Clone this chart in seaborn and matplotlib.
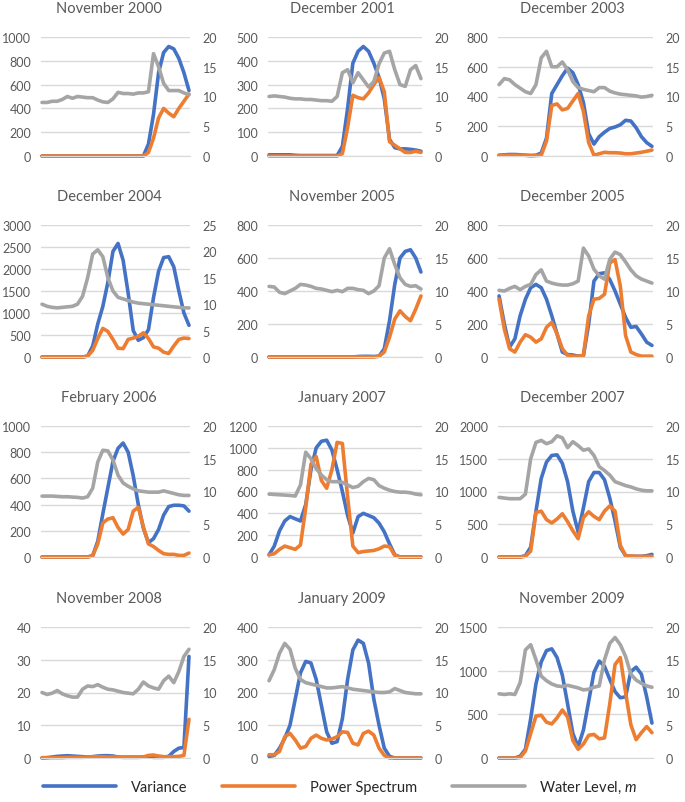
import numpy as np
import pandas as pd
import matplotlib
matplotlib.use("Agg")
import matplotlib.pyplot as plt
import seaborn as sns
from matplotlib.lines import Line2D

# ---------------- data ----------------
titles = ["November 2000", "December 2001", "December 2003",
          "December 2004", "November 2005", "December 2005",
          "February 2006", "January 2007", "December 2007",
          "November 2008", "January 2009", "November 2009"]

left_max = [1000, 500, 800, 3000, 800, 800, 1000, 1200, 2000, 40, 400, 1500]
left_step = [200, 100, 200, 500, 200, 200, 200, 200, 500, 10, 100, 500]
right_max = [20, 20, 20, 25, 20, 20, 20, 20, 20, 20, 20, 20]

variance_nov2000 = [0]*21 + [100, 350, 700, 870, 920, 900, 820, 700, 550]
power_nov2000 = [0]*21 + [30, 150, 320, 400, 360, 330, 400, 460, 520]
water_nov2000 = [9.0, 9.0, 9.2, 9.2, 9.5, 10.0, 9.7, 10.0, 9.9, 9.8, 9.8, 9.4, 9.1, 9.0,
                 9.6, 10.7, 10.5, 10.5, 10.4, 10.6, 10.6, 10.8, 17.2, 15.0, 12.2, 11.0,
                 11.0, 11.0, 10.6, 10.3]

variance_dec2001 = [5, 5, 5, 5, 5, 3, 2, 2, 2, 2, 2, 2, 2, 2, 40, 200, 390, 440, 460, 440,
                    390, 330, 240, 70, 35, 30, 30, 28, 25, 20]
power_dec2001 = [0]*14 + [10, 120, 255, 245, 240, 265, 300, 330, 270, 60, 45, 30, 15, 15, 20, 15]
water_dec2001 = [10.0, 10.1, 10.0, 9.9, 9.7, 9.6, 9.6, 9.5, 9.5, 9.4, 9.3, 9.3, 9.2, 10.0,
                 14.0, 14.5, 12.3, 14.0, 12.8, 11.6, 12.5, 15.5, 17.3, 17.6, 14.5, 12.0,
                 11.7, 14.5, 15.2, 13.0]

variance_dec2003 = [5, 8, 10, 10, 8, 5, 3, 5, 20, 120, 420, 480, 540, 590, 560, 480, 360,
                    150, 80, 130, 160, 185, 195, 210, 240, 235, 190, 130, 90, 65]
power_dec2003 = [5, 5, 5, 5, 5, 5, 3, 3, 5, 100, 340, 350, 310, 320, 370, 420, 300, 90, 5,
                 15, 25, 22, 22, 20, 15, 15, 20, 25, 32, 40]
water_dec2003 = [12.0, 13.0, 12.8, 12.0, 11.4, 10.8, 10.5, 12.0, 16.5, 17.6, 15.0, 15.0,
                 15.8, 14.5, 12.5, 11.5, 11.2, 11.0, 10.8, 11.5, 11.5, 10.9, 10.6, 10.4,
                 10.3, 10.2, 10.1, 9.9, 10.0, 10.2]

variance_dec2004 = [0]*9 + [20, 250, 750, 1150, 1700, 2400, 2580, 2200, 1450, 600, 380, 440,
                            620, 1350, 1950, 2260, 2280, 2050, 1500, 1000, 720]
power_dec2004 = [0]*9 + [20, 150, 420, 650, 580, 400, 200, 190, 400, 430, 470, 550, 420, 230,
                         200, 110, 80, 250, 400, 430, 420]
water_dec2004 = [10.0, 9.6, 9.4, 9.3, 9.4, 9.5, 9.6, 10.0, 11.5, 15.0, 19.5, 20.3, 19.0,
                 15.0, 12.5, 11.3, 11.0, 10.7, 10.4, 10.2, 10.1, 10.0, 9.9, 9.8, 9.7, 9.6,
                 9.5, 9.4, 9.3, 9.3]

variance_nov2005 = [0]*17 + [3, 4, 4, 3, 5, 50, 220, 440, 600, 640, 650, 600, 515]
power_nov2005 = [0]*21 + [5, 30, 120, 230, 280, 245, 220, 290, 370]
water_nov2005 = [10.7, 10.6, 9.8, 9.6, 10.0, 10.4, 11.0, 10.9, 10.7, 10.4, 10.3, 10.1, 9.9,
                 10.1, 9.9, 10.4, 10.4, 10.2, 10.1, 9.6, 10.0, 10.8, 15.0, 16.4, 14.0, 12.0,
                 11.0, 10.7, 10.8, 10.3]

variance_dec2005 = [370, 200, 60, 110, 250, 350, 420, 440, 420, 350, 250, 140, 30, 15, 12, 5,
                    8, 200, 460, 505, 510, 470, 400, 320, 240, 180, 185, 140, 90, 70]
power_dec2005 = [350, 170, 50, 30, 90, 135, 120, 90, 110, 180, 210, 140, 50, 10, 5, 5, 10,
                 250, 350, 355, 380, 570, 590, 430, 130, 30, 15, 5, 5, 5]
water_dec2005 = [10.1, 10.0, 10.4, 10.7, 10.2, 10.7, 11.0, 12.5, 13.2, 11.5, 11.2, 11.0,
                 10.9, 10.9, 11.1, 11.5, 16.5, 15.3, 13.3, 12.3, 11.8, 14.8, 15.9, 15.5,
                 14.4, 13.2, 12.3, 11.8, 11.5, 11.2]

variance_feb2006 = [0]*10 + [10, 120, 330, 530, 730, 830, 870, 800, 620, 400, 220, 110, 140,
                             210, 320, 385, 395, 395, 390, 350]
power_feb2006 = [0]*10 + [10, 100, 260, 290, 300, 225, 175, 210, 350, 380, 230, 100, 80, 50,
                          25, 20, 20, 12, 12, 30]
water_feb2006 = [9.3, 9.3, 9.3, 9.25, 9.2, 9.2, 9.15, 9.1, 9.0, 9.2, 10.5, 14.5, 16.3, 16.2,
                 14.8, 12.5, 11.3, 10.8, 10.4, 10.1, 10.0, 9.9, 9.9, 9.9, 10.1, 9.9, 9.7,
                 9.5, 9.4, 9.4]

variance_jan2007 = [20, 100, 240, 330, 370, 350, 330, 480, 800, 1000, 1060, 1070, 980, 800,
                    600, 380, 220, 370, 400, 380, 360, 310, 230, 120, 20, 0, 0, 0, 0, 0]
power_jan2007 = [20, 30, 70, 100, 85, 70, 110, 450, 850, 920, 700, 630, 800, 1050, 1040, 550,
                 100, 40, 50, 55, 60, 75, 100, 95, 15, 0, 0, 0, 0, 0]
water_jan2007 = [9.6, 9.55, 9.5, 9.45, 9.4, 9.3, 11.0, 16.0, 15.0, 13.5, 12.5, 11.8, 11.5,
                 11.5, 11.4, 11.0, 10.6, 10.8, 11.5, 12.0, 11.8, 10.9, 10.5, 10.2, 10.0, 9.9,
                 9.9, 9.8, 9.6, 9.5]

variance_dec2007 = [0, 0, 0, 0, 0, 20, 150, 700, 1200, 1450, 1550, 1560, 1430, 1150, 700, 380,
                    750, 1150, 1290, 1290, 1180, 900, 550, 150, 20, 10, 10, 10, 20, 40]
power_dec2007 = [0, 0, 0, 0, 0, 10, 90, 680, 700, 570, 520, 580, 660, 540, 400, 280, 600, 690,
                 620, 570, 700, 780, 700, 180, 20, 15, 10, 10, 10, 10]
water_dec2007 = [9.1, 9.0, 8.9, 8.9, 8.9, 9.6, 15.0, 17.5, 17.8, 17.3, 17.6, 18.5, 18.2, 16.7,
                 17.6, 17.0, 16.3, 16.5, 15.5, 13.8, 13.2, 12.5, 11.5, 11.2, 10.9, 10.7, 10.4,
                 10.2, 10.1, 10.1]

variance_nov2008 = [0.0, 0.1, 0.3, 0.5, 0.6, 0.7, 0.6, 0.5, 0.4, 0.3, 0.4, 0.6, 0.7, 0.7, 0.6,
                    0.3, 0.2, 0.2, 0.2, 0.2, 0.3, 0.3, 0.2, 0.2, 0.2, 0.5, 2.0, 3.0, 3.2, 31.0]
power_nov2008 = [0.1, 0.1, 0.1, 0.1, 0.1, 0.2, 0.2, 0.2, 0.2, 0.3, 0.4, 0.4, 0.4, 0.3, 0.3, 0.3,
                 0.3, 0.3, 0.3, 0.3, 0.3, 0.8, 0.9, 0.6, 0.4, 0.4, 0.4, 0.5, 0.8, 11.8]
water_nov2008 = [10.0, 9.7, 9.9, 10.3, 9.8, 9.5, 9.3, 9.3, 10.5, 11.0, 10.9, 11.2, 10.8, 10.5,
                 10.4, 10.2, 10.0, 9.9, 9.8, 10.5, 11.6, 11.0, 10.7, 10.5, 11.8, 12.5, 11.5,
                 13.2, 15.5, 16.6]

variance_jan2009 = [5, 8, 30, 60, 100, 180, 260, 295, 290, 240, 160, 80, 45, 50, 120, 240, 330,
                    360, 350, 290, 180, 100, 30, 5, 0, 0, 0, 0, 0, 0]
power_jan2009 = [10, 10, 20, 65, 75, 55, 30, 35, 60, 70, 60, 55, 58, 65, 80, 78, 45, 40, 75,
                 82, 70, 30, 8, 0, 0, 0, 0, 0, 0, 0]
water_jan2009 = [11.8, 13.5, 16.0, 17.5, 16.6, 13.7, 12.0, 11.5, 11.3, 11.1, 10.9, 10.7, 10.7,
                 10.8, 10.9, 10.7, 10.5, 10.4, 10.3, 10.2, 10.1, 10.0, 10.0, 10.1, 10.6, 10.3,
                 10.0, 9.9, 9.8, 9.8]

variance_nov2009 = [0, 0, 0, 0, 20, 100, 450, 850, 1100, 1230, 1250, 1150, 950, 620, 280, 130,
                    320, 650, 980, 1110, 1050, 900, 760, 690, 700, 990, 1040, 960, 700, 400]
power_nov2009 = [0, 0, 0, 0, 5, 80, 280, 480, 490, 410, 390, 460, 550, 470, 200, 100, 160, 260,
                 270, 220, 230, 620, 1070, 1150, 750, 380, 210, 290, 360, 290]
water_nov2009 = [9.8, 9.7, 9.8, 9.7, 11.5, 16.5, 17.3, 15.0, 12.5, 11.8, 11.3, 11.0, 10.9,
                 11.1, 10.9, 10.7, 10.4, 10.5, 10.8, 11.0, 15.0, 17.5, 18.4, 17.3, 15.5, 12.8,
                 11.9, 11.4, 11.0, 10.8]

variance_series = [variance_nov2000, variance_dec2001, variance_dec2003, variance_dec2004,
                   variance_nov2005, variance_dec2005, variance_feb2006, variance_jan2007,
                   variance_dec2007, variance_nov2008, variance_jan2009, variance_nov2009]
power_series = [power_nov2000, power_dec2001, power_dec2003, power_dec2004, power_nov2005,
                power_dec2005, power_feb2006, power_jan2007, power_dec2007, power_nov2008,
                power_jan2009, power_nov2009]
water_series = [water_nov2000, water_dec2001, water_dec2003, water_dec2004, water_nov2005,
                water_dec2005, water_feb2006, water_jan2007, water_dec2007, water_nov2008,
                water_jan2009, water_nov2009]

legend_labels = ["Variance", "Power Spectrum", "Water Level, $m$"]

# ---------------- style ----------------
sns.set_style("white")
plt.rcParams["font.family"] = ["Lato", "DejaVu Sans"]
plt.rcParams["mathtext.fontset"] = "custom"
plt.rcParams["mathtext.it"] = "Lato:italic"
plt.rcParams["mathtext.rm"] = "Lato"

BLUE = "#4472C4"
ORANGE = "#ED7D31"
GRAY = "#A5A5A5"
TXT = "#595959"
GRID = "#D9D9D9"
LW = 2.6

W, H = 685, 803
fig = plt.figure(figsize=(W / 100, H / 100), dpi=100)

cols = [(41, 190), (268, 422), (498, 653)]
rows = [(38, 157), (226, 358), (427, 558), (628, 759)]
title_x = [109, 342, 572]

for k in range(12):
    r, c = divmod(k, 3)
    x0, x1 = cols[c]
    t0, t1 = rows[r]
    ax = fig.add_axes([x0 / W, 1 - t1 / H, (x1 - x0) / W, (t1 - t0) / H])
    n = len(variance_series[k])
    df = pd.DataFrame({"idx": np.arange(n),
                       "Variance": variance_series[k],
                       "Power": power_series[k],
                       "Water": water_series[k]})
    sns.lineplot(data=df, x="idx", y="Variance", ax=ax, color=BLUE, lw=LW,
                 solid_capstyle="round", solid_joinstyle="round")
    sns.lineplot(data=df, x="idx", y="Power", ax=ax, color=ORANGE, lw=LW,
                 solid_capstyle="round", solid_joinstyle="round")
    ax.set_ylim(0, left_max[k])
    ax.set_yticks(np.arange(0, left_max[k] + 1e-9, left_step[k]))
    ax.set_xlim(-0.2, n - 1 + 0.2)
    ax.set_xticks([])
    ax.set_xlabel("")
    ax.set_ylabel("")
    ax.grid(axis="y", color=GRID, lw=1.0)
    ax.set_axisbelow(True)
    for s in ax.spines.values():
        s.set_visible(False)
    ax.spines["bottom"].set_visible(True)
    ax.spines["bottom"].set_color(GRID)
    ax.tick_params(axis="y", length=0, labelsize=9, labelcolor=TXT, pad=7)

    ax2 = ax.twinx()
    sns.lineplot(data=df, x="idx", y="Water", ax=ax2, color=GRAY, lw=LW,
                 solid_capstyle="round", solid_joinstyle="round")
    ax2.set_ylim(0, right_max[k])
    ax2.set_yticks(np.arange(0, right_max[k] + 1e-9, 5))
    ax2.set_xlim(-0.2, n - 1 + 0.2)
    ax2.set_ylabel("")
    ax2.set_xlabel("")
    for s in ax2.spines.values():
        s.set_visible(False)
    ax2.tick_params(axis="y", length=0, labelsize=9, labelcolor=TXT, pad=9)
    for line in ax.get_lines() + ax2.get_lines():
        line.set_clip_on(False)

    fig.text(title_x[c] / W, 1 - (t0 - 29) / H, titles[k], ha="center", va="center",
             fontsize=10.5, color=TXT)

handles = [Line2D([], [], color=BLUE, lw=LW),
           Line2D([], [], color=ORANGE, lw=LW),
           Line2D([], [], color=GRAY, lw=LW)]
fig.legend(handles, legend_labels, loc="center", bbox_to_anchor=(0.497, 1 - 788 / H),
           ncol=3, frameon=False, handlelength=5.0, columnspacing=2.4, handletextpad=1.0,
           fontsize=10.5, labelcolor="#262626")

fig.savefig("out.png", dpi=100)
